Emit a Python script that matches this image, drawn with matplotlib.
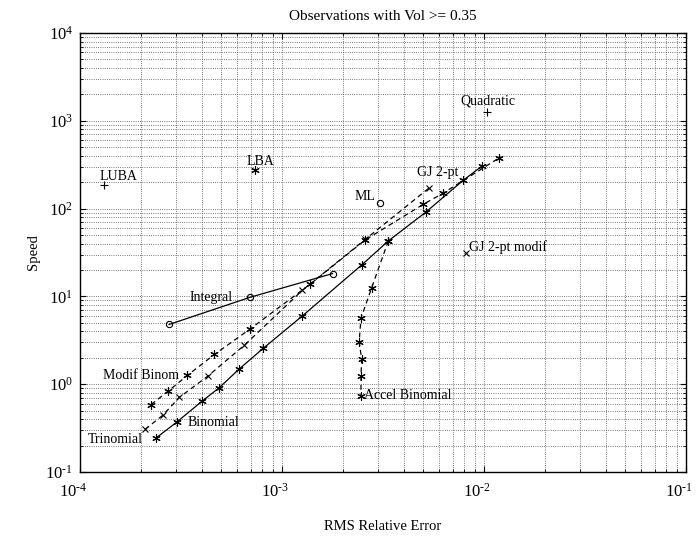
import math

import matplotlib as mpl
import matplotlib.pyplot as plt
from matplotlib.ticker import FixedLocator, FuncFormatter
from matplotlib.transforms import ScaledTranslation

mpl.rcParams.update(
    {
        "font.family": "serif",
        "font.serif": ["Liberation Serif", "DejaVu Serif"],
        "mathtext.fontset": "custom",
        "mathtext.rm": "Liberation Serif",
        "mathtext.it": "Liberation Serif:italic",
        "xtick.direction": "in",
        "ytick.direction": "in",
        "xtick.top": True,
        "ytick.right": True,
        "xtick.major.size": 4,
        "ytick.major.size": 4,
        "xtick.minor.size": 2.5,
        "ytick.minor.size": 2.5,
        "axes.linewidth": 1.0,
    }
)

# RMS relative error / speed for each method
binom_err = [2.37e-4, 3.03e-4, 4.03e-4, 4.89e-4, 6.12e-4, 8.07e-4, 1.26e-3,
             2.48e-3, 3.36e-3, 5.16e-3, 7.87e-3, 9.77e-3]
binom_speed = [0.242, 0.374, 0.644, 0.912, 1.48, 2.56, 5.98,
               22.8, 42.8, 91.4, 209, 305]

trinom_err = [2.10e-4, 2.57e-4, 3.10e-4, 4.32e-4, 6.49e-4, 1.26e-3, 2.58e-3, 5.35e-3]
trinom_speed = [0.306, 0.443, 0.706, 1.25, 2.76, 11.7, 44.5, 172]

modif_err = [2.25e-4, 2.74e-4, 3.40e-4, 4.63e-4, 6.92e-4, 1.38e-3, 2.58e-3,
             5.01e-3, 6.25e-3, 1.18e-2]
modif_speed = [0.587, 0.837, 1.26, 2.18, 4.22, 13.8, 43.9, 112, 149, 374]

integral_err = [2.76e-4, 6.95e-4, 1.78e-3]
integral_speed = [4.79, 9.77, 18.2]

accel_err = [3.36e-3, 2.78e-3, 2.46e-3, 2.41e-3, 2.48e-3, 2.46e-3, 2.46e-3]
accel_speed = [42.8, 12.6, 5.63, 3.05, 1.92, 1.25, 0.734]

# single-point methods
ml_err, ml_speed = 3.05e-3, 117
gj_modif_err, gj_modif_speed = 8.18e-3, 31.6
quad_err, quad_speed = 1.04e-2, 1270
lba_err, lba_speed = 7.34e-4, 275
luba_err, luba_speed = 1.32e-4, 186

x_decades = [1e-4, 1e-3, 1e-2, 1e-1]
y_decades = [1e-1, 1e0, 1e1, 1e2, 1e3, 1e4]

ASTER = (6, 2, 0)
DASH = (0, (4, 3))


def fmt(v, _pos):
    # MATLAB-style exponent: short hyphen rather than a wide minus sign
    e = int(round(math.log10(v)))
    sup = ("\u2010" + str(-e)) if e < 0 else str(e)
    return "$\\mathdefault{10^{" + sup + "}}$"


fig = plt.figure(figsize=(6.98, 5.40), dpi=100)
ax = fig.add_axes([80 / 698, 68 / 540, 606 / 698, 439 / 540])
ax.set_xscale("log")
ax.set_yscale("log")
ax.set_xlim(1e-4, 1e-1)
ax.set_ylim(1e-1, 1e4)

ax.xaxis.set_major_locator(FixedLocator(x_decades))
ax.yaxis.set_major_locator(FixedLocator(y_decades))
ax.xaxis.set_major_formatter(FuncFormatter(fmt))
ax.yaxis.set_major_formatter(FuncFormatter(fmt))

ax.grid(True, which="both", ls=":", color="0.3", lw=0.6)
ax.set_axisbelow(True)

kw = dict(color="k", lw=0.9)
ax.plot(binom_err, binom_speed, ls="-", marker=ASTER, ms=6, mew=0.8, **kw)
ax.plot(trinom_err, trinom_speed, ls=DASH, marker="x", ms=5, mew=0.8, **kw)
ax.plot(modif_err, modif_speed, ls=DASH, marker=ASTER, ms=6, mew=0.8, **kw)
ax.plot(integral_err, integral_speed, ls="-", marker="o", ms=4.5, mew=0.8,
        mfc="none", **kw)
ax.plot(accel_err, accel_speed, ls=DASH, marker=ASTER, ms=6, mew=0.8, **kw)

ax.plot(ml_err, ml_speed, ls="none", marker="o", ms=4.5, mew=0.8, mfc="none", color="k")
ax.plot(gj_modif_err, gj_modif_speed, ls="none", marker="x", ms=5, mew=0.8, color="k")
ax.plot(quad_err, quad_speed, ls="none", marker="+", ms=6, mew=0.8, color="k")
ax.plot(lba_err, lba_speed, ls="none", marker=ASTER, ms=6, mew=0.8, color="k")
ax.plot(luba_err, luba_speed, ls="none", marker="+", ms=6, mew=0.8, color="k")


def label(text, x, y, dx, dy, ha="center", va="center"):
    ax.annotate(text, xy=(x, y), xytext=(dx, -dy), textcoords="offset pixels",
                ha=ha, va=va, fontsize=10)


label("Quadratic", quad_err, quad_speed, 0, -11)
label("LBA", lba_err, lba_speed, 6, -9)
label("LUBA", luba_err, luba_speed, 14, -8)
label("ML", ml_err, ml_speed, -4, -6, ha="right")
label("GJ 2-pt", trinom_err[-1], trinom_speed[-1], 9, -15)
label("GJ 2-pt modif", gj_modif_err, gj_modif_speed, 3, -5, ha="left")
label("Integral", integral_err[1], integral_speed[1], -17, 0, ha="right")
label("Modif Binom", modif_err[2], modif_speed[2], -8, 0, ha="right")
label("Binomial", binom_err[1], binom_speed[1], 10, 1, ha="left")
label("Trinomial", trinom_err[0], trinom_speed[0], -2, 10, ha="right")
label("Accel Binomial", accel_err[-1], accel_speed[-1], 3, 0, ha="left")

ax.tick_params(labelsize=12, pad=5)
ax.tick_params(axis="x", pad=8)
# x tick labels sit a little left of their ticks in the original
shift = ScaledTranslation(-5 / 72, 0, fig.dpi_scale_trans)
for tick in ax.xaxis.get_major_ticks():
    tick.label1.set_transform(tick.label1.get_transform() + shift)

ax.set_title("Observations with Vol >= 0.35", fontsize=11, pad=9)
ax.set_xlabel("RMS Relative Error", fontsize=10.5, labelpad=14)
ax.set_ylabel("Speed", fontsize=10.5, labelpad=4)

fig.savefig("out.png", dpi=100)
